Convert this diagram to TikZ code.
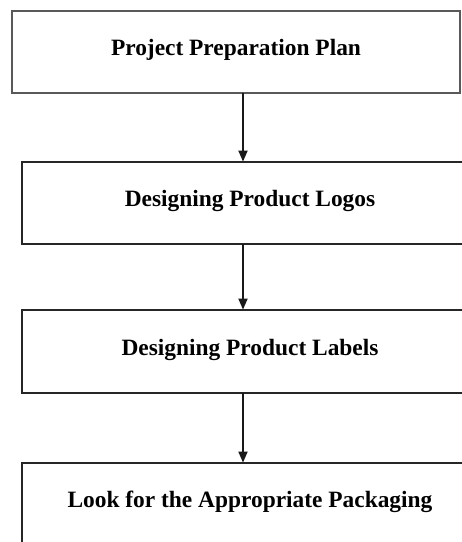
\documentclass[tikz,border=0pt]{standalone}
\usepackage{fontspec}
\setmainfont{Liberation Serif}
\usetikzlibrary{arrows.meta}
\begin{document}
\begin{tikzpicture}[x=1pt,y=-1pt,
  stepbox/.style={draw=black!85, line width=1.8pt, rectangle, inner sep=0pt,
    font=\fontsize{23.4}{26}\selectfont\bfseries,
    text height=16pt, text depth=9pt},
  firstbox/.style={stepbox, draw=black!65, line width=1.3pt},
  flow/.style={line width=1.8pt, black!90,
    -{Triangle[width=9pt,length=11pt]}, shorten >=-0.5pt}
]
  % canvas
  \clip (0,0) rectangle (462,542);
  \fill[white] (0,0) rectangle (462,542);

  % process steps
  \node[firstbox, minimum width=448pt, minimum height=82pt] (plan)
    at (236,52) {Project Preparation Plan};
  \node[stepbox, minimum width=456pt, minimum height=82pt] (logos)
    at (250,203) {Designing Product Logos};
  \node[stepbox, minimum width=456pt, minimum height=83pt] (labels)
    at (250,351.5) {Designing Product Labels};
  \node[stepbox, minimum width=456pt, minimum height=82pt] (pack)
    at (250,504) {Look for the Appropriate Packaging};

  % connectors
  \coordinate (a1) at (243,93);
  \coordinate (a2) at (243,244);
  \coordinate (a3) at (243,393);
  \draw[flow] (a1) -- (a1 |- logos.north);
  \draw[flow] (a2) -- (a2 |- labels.north);
  \draw[flow] (a3) -- (a3 |- pack.north);
\end{tikzpicture}
\end{document}
